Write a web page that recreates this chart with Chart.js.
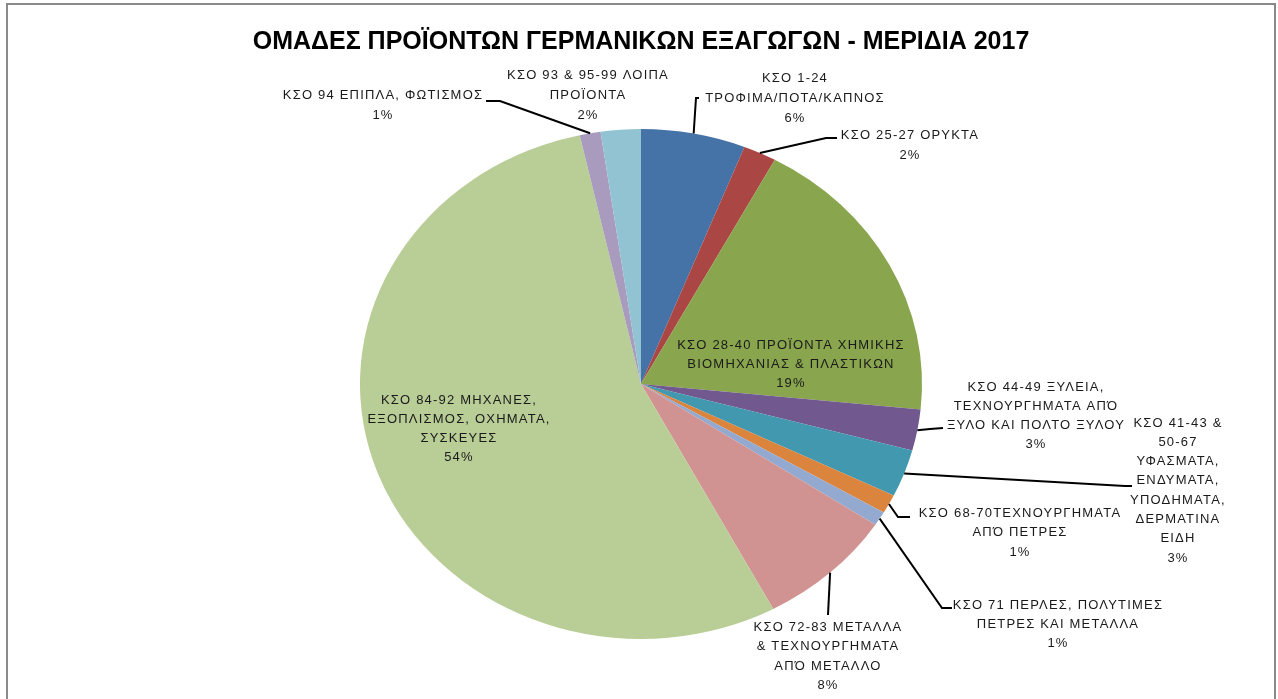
<!DOCTYPE html>
<html>
<head>
<meta charset="utf-8">
<title>ΟΜΑΔΕΣ ΠΡΟΪΟΝΤΩΝ ΓΕΡΜΑΝΙΚΩΝ ΕΞΑΓΩΓΩΝ</title>
<script src="https://cdn.jsdelivr.net/npm/chart.js@4.4.1/dist/chart.umd.min.js"></script>
<style>
  html, body { margin: 0; padding: 0; background: #fff; overflow: hidden; }
  #wrap { position: absolute; left: 0; top: 0; width: 1278px; height: 699px; }
  #frame { position: absolute; left: 6px; top: 3px; width: 1270px; height: 740px; border: 2px solid #8a8a8a; box-sizing: border-box; }
  canvas { position: absolute; left: 0; top: 0; }
</style>
</head>
<body>
<div id="wrap">
  <div id="frame"></div>
  <canvas id="pieChart" width="1278" height="699"></canvas>
</div>
<script>
// Category label lines (as printed on the chart)
const categoryLines = [
  ["ΚΣΟ 1-24", "ΤΡΟΦΙΜΑ/ΠΟΤΑ/ΚΑΠΝΟΣ"],
  ["ΚΣΟ 25-27 ΟΡΥΚΤΑ"],
  ["ΚΣΟ 28-40 ΠΡΟΪΟΝΤΑ ΧΗΜΙΚΗΣ", "ΒΙΟΜΗΧΑΝΙΑΣ & ΠΛΑΣΤΙΚΩΝ"],
  ["ΚΣΟ 44-49 ΞΥΛΕΙΑ,", "ΤΕΧΝΟΥΡΓΗΜΑΤΑ ΑΠΌ", "ΞΥΛΟ ΚΑΙ ΠΟΛΤΟ ΞΥΛΟΥ"],
  ["ΚΣΟ 41-43 &", "50-67", "ΥΦΑΣΜΑΤΑ,", "ΕΝΔΥΜΑΤΑ,", "ΥΠΟΔΗΜΑΤΑ,", "ΔΕΡΜΑΤΙΝΑ", "ΕΙΔΗ"],
  ["ΚΣΟ 68-70ΤΕΧΝΟΥΡΓΗΜΑΤΑ", "ΑΠΌ ΠΕΤΡΕΣ"],
  ["ΚΣΟ 71 ΠΕΡΛΕΣ, ΠΟΛΥΤΙΜΕΣ", "ΠΕΤΡΕΣ ΚΑΙ ΜΕΤΑΛΛΑ"],
  ["ΚΣΟ 72-83 ΜΕΤΑΛΛΑ", "& ΤΕΧΝΟΥΡΓΗΜΑΤΑ", "ΑΠΌ ΜΕΤΑΛΛΟ"],
  ["ΚΣΟ 84-92 ΜΗΧΑΝΕΣ,", "ΕΞΟΠΛΙΣΜΟΣ, ΟΧΗΜΑΤΑ,", "ΣΥΣΚΕΥΕΣ"],
  ["ΚΣΟ 94 ΕΠΙΠΛΑ, ΦΩΤΙΣΜΟΣ"],
  ["ΚΣΟ 93 & 95-99 ΛΟΙΠΑ", "ΠΡΟΪΟΝΤΑ"]
];
const categories = categoryLines.map(l => l.join(" "));

// Shares of German exports 2017 (%)
const shares = [6.0, 1.9, 18.7, 2.6, 3.0, 1.2, 0.9, 7.9, 54.3, 1.2, 2.3];

const sliceColors = [
  "#4572A7", "#AA4643", "#89A54E", "#71588F", "#4198AF", "#DB843D",
  "#93A9CF", "#D19392", "#B9CD96", "#A99BBD", "#92C3D3"
];

const chartTitle = "ΟΜΑΔΕΣ ΠΡΟΪΟΝΤΩΝ ΓΕΡΜΑΝΙΚΩΝ ΕΞΑΓΩΓΩΝ - ΜΕΡΙΔΙΑ 2017";

// Label placement: centre x, first line y, line height, leader elbows (label side first)
const labelLayout = [
  { x: 795, y: 78, lh: 20, leader: [[699, 98], [696, 98]] },
  { x: 910, y: 135, lh: 20, leader: [[837, 138], [826, 138]] },
  { x: 791, y: 345, lh: 19, leader: null },
  { x: 1036, y: 387, lh: 19, leader: [[943, 428], [930, 429]] },
  { x: 1178, y: 423, lh: 19.3, leader: [[1132, 486], [1125, 486]] },
  { x: 1020, y: 513, lh: 19.5, leader: [[910, 517], [898, 517]] },
  { x: 1058, y: 605, lh: 19, leader: [[952, 608], [942, 608]] },
  { x: 828, y: 627, lh: 19.5, leader: [[828, 615]] },
  { x: 459, y: 400, lh: 19, leader: null },
  { x: 383, y: 95, lh: 20, leader: [[486, 101], [500, 101]] },
  { x: 588, y: 75, lh: 20, leader: null }
];

const xStretch = 281 / 255; // the original pie is slightly wider than tall

// Stretch the pie horizontally while the library draws the arcs
const stretchPie = {
  id: "stretchPie",
  beforeDatasetsDraw(chart) {
    const arc = chart.getDatasetMeta(0).data[0];
    const ctx = chart.ctx;
    ctx.save();
    ctx.translate(arc.x, arc.y);
    ctx.scale(xStretch, 1);
    ctx.translate(-arc.x, -arc.y);
  },
  afterDatasetsDraw(chart) {
    chart.ctx.restore();
  }
};

// Data labels with leader lines, Excel style
const sliceLabels = {
  id: "sliceLabels",
  afterDraw(chart) {
    const ctx = chart.ctx;
    const total = shares.reduce((a, b) => a + b, 0);
    const arcs = chart.getDatasetMeta(0).data;
    ctx.save();
    arcs.forEach((arc, i) => {
      const lay = labelLayout[i];
      if (lay.leader) {
        const mid = (arc.startAngle + arc.endAngle) / 2;
        const ax = arc.x + Math.cos(mid) * arc.outerRadius * xStretch;
        const ay = arc.y + Math.sin(mid) * arc.outerRadius;
        ctx.beginPath();
        ctx.moveTo(lay.leader[0][0], lay.leader[0][1]);
        lay.leader.slice(1).forEach(p => ctx.lineTo(p[0], p[1]));
        ctx.lineTo(ax, ay);
        ctx.strokeStyle = "#000";
        ctx.lineWidth = 2;
        ctx.stroke();
      }
      const lines = categoryLines[i].concat([Math.round(shares[i] / total * 100) + "%"]);
      ctx.fillStyle = "#1a1a1a";
      ctx.font = "13px 'Liberation Sans', Arial, sans-serif";
      ctx.letterSpacing = "1.2px";
      ctx.textAlign = "center";
      ctx.textBaseline = "middle";
      lines.forEach((t, k) => ctx.fillText(t, lay.x, lay.y + k * lay.lh));
    });
    ctx.restore();
  }
};

const ctx = document.getElementById("pieChart").getContext("2d");
const pieChart = new Chart(ctx, {
  type: "pie",
  data: {
    labels: categories,
    datasets: [{
      data: shares,
      backgroundColor: sliceColors,
      borderWidth: 0,
      hoverOffset: 0,
      offset: 0
    }]
  },
  options: {
    responsive: false,
    animation: false,
    events: [],
    layout: { padding: { left: 4, right: 0, top: 0, bottom: 60 } },
    plugins: {
      legend: { display: false },
      tooltip: { enabled: false },
      title: {
        display: true,
        text: chartTitle,
        color: "#000",
        font: { family: "'Liberation Sans', Arial, sans-serif", size: 25, weight: "bold", lineHeight: 1.2 },
        padding: { top: 27, bottom: 72 }
      }
    }
  },
  plugins: [stretchPie, sliceLabels]
});
</script>
</body>
</html>
